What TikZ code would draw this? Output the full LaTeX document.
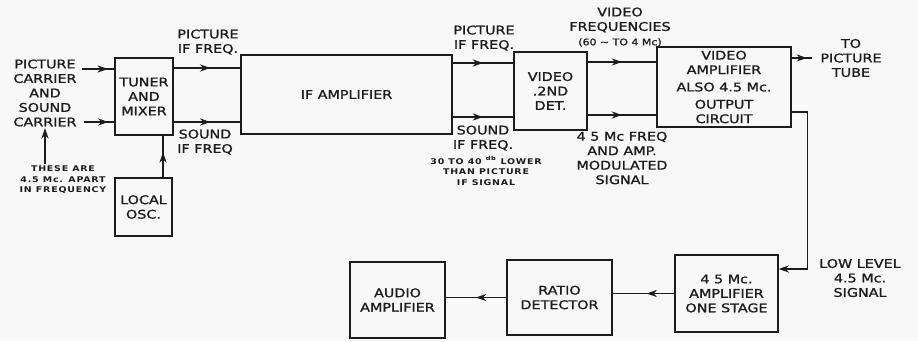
\documentclass[tikz,border=0pt]{standalone}
\usepackage{fontspec}
\setmainfont{DejaVu Sans}[FakeStretch=1.2,FakeBold=1.2]
\newfontfamily\notefont{DejaVu Sans}[FakeStretch=1.2,LetterSpace=10]
\usetikzlibrary{positioning,arrows.meta,calc,decorations.markings}
\definecolor{Ink}{RGB}{28,28,28}
\definecolor{Paper}{RGB}{248,248,248}
\tikzset{
  flow/.style={-{Stealth[length=2.6mm,width=1.8mm]},line width=0.9pt,draw=Ink},
  midflow/.style={line width=0.9pt,draw=Ink,postaction={decorate},
    decoration={markings,mark=at position #1 with {\arrow{Stealth[length=2.6mm,width=1.8mm]}}}},
  midflow/.default=0.55,
  box/.style={draw=Ink,line width=0.9pt,align=center,text=Ink,inner sep=1pt,
    font=\fontsize{8.5}{10.3}\selectfont},
  lbl/.style={align=center,text=Ink,inner sep=1pt,font=\fontsize{8.5}{10.3}\selectfont},
  smalllbl/.style={align=center,text=Ink,inner sep=1pt,font=\notefont\bfseries\fontsize{5.6}{7.5}\selectfont}
}

\begin{document}
\begin{tikzpicture}[x=0.025cm,y=-0.025cm]
  \fill[Paper] (0,0) rectangle (918,341);
  \useasboundingbox (0,0) rectangle (918,341);
  % upper chain
  \node[box,minimum width=1.45cm,minimum height=1.925cm] (tuner) at (144,96.5) {TUNER\\AND\\MIXER};
  \node[box,minimum width=5.275cm,minimum height=1.975cm] (ifamp) at (346.5,94.5) {IF AMPLIFIER};
  \node[box,minimum width=1.825cm,minimum height=1.95cm] (det) at (550.5,91) {VIDEO\\.2ND\\DET.};
  \node[box,minimum width=3.35cm,minimum height=2.0cm] (vamp) at (724,87)
    {VIDEO\\AMPLIFIER\\[2pt]ALSO 4.5 Mc.\\[2pt]OUTPUT\\CIRCUIT};
  \node[box,minimum width=1.425cm,minimum height=1.45cm] (osc) at (143.5,207) {LOCAL\\OSC.};
  % sound chain
  \node[box,minimum width=2.575cm,minimum height=1.925cm] (mfour) at (726.5,293.5) {4 5 Mc.\\AMPLIFIER\\ONE STAGE};
  \node[box,minimum width=2.625cm,minimum height=1.875cm] (ratio) at (559.5,297.5) {RATIO\\DETECTOR};
  \node[box,minimum width=2.375cm,minimum height=1.9cm] (audio) at (397.5,300) {AUDIO\\AMPLIFIER};

  % labels
  \node[lbl] (piccar) at (45,93) {PICTURE\\CARRIER\\AND\\SOUND\\CARRIER};
  \node[smalllbl] (apart) at (63,180) {THESE ARE\\4.5 Mc. APART\\IN FREQUENCY};
  \node[lbl] (pifone) at (208,42) {PICTURE\\IF FREQ.};
  \node[lbl] (sifone) at (205,142) {SOUND\\IF FREQ};
  \node[lbl] (piftwo) at (484,38) {PICTURE\\IF FREQ.};
  \node[lbl] (siftwo) at (483,138) {SOUND\\IF FREQ.};
  \node[smalllbl] (dbnote) at (486,171) {30 TO 40 \textsuperscript{db} LOWER\\THAN PICTURE\\IF SIGNAL};
  \node[lbl] (vidfreq) at (620,27) {VIDEO\\FREQUENCIES\\{\fontsize{6.5}{8}\selectfont(60 ∼ TO 4 Mc)}};
  \node[lbl] (modsig) at (622,158) {4 5 Mc FREQ\\AND AMP.\\MODULATED\\SIGNAL};
  \node[lbl] (tube) at (851,58) {TO\\PICTURE\\TUBE};
  \node[lbl] (lowlvl) at (860,278) {LOW LEVEL\\4.5 Mc.\\SIGNAL};

  \coordinate (pcin) at (82,69);
  \coordinate (scin) at (84,122);
  \coordinate (tubeend) at (812,58);

  % connectors
  \draw[midflow=0.8] (pcin) -- (pcin -| tuner.west);
  \draw[midflow=0.8] (scin) -- (scin -| tuner.west);
  \draw[flow] (apart.north -| piccar.south) -- (piccar.south);
  \draw[midflow=0.6] ([xshift=0.4875cm]osc.north) -- ([xshift=0.4875cm]osc.north |- tuner.south);
  \draw[midflow] ([yshift=0.7125cm]tuner.east) -- ([yshift=0.7125cm]tuner.east -| ifamp.west);
  \draw[midflow] ([yshift=-0.6375cm]tuner.east) -- ([yshift=-0.6375cm]tuner.east -| ifamp.west);
  \draw[midflow=0.5] ([yshift=0.7875cm]ifamp.east) -- ([yshift=0.7875cm]ifamp.east -| det.west);
  \draw[midflow=0.5] ([yshift=-0.5625cm]ifamp.east) -- ([yshift=-0.5625cm]ifamp.east -| det.west);
  \draw[midflow=0.5] ([yshift=0.725cm]det.east) -- ([yshift=0.725cm]det.east -| vamp.west);
  \draw[midflow=0.5] ([yshift=-0.6cm]det.east) -- ([yshift=-0.6cm]det.east -| vamp.west);
  \draw[midflow=0.75] (vamp.east |- tubeend) -- (tubeend);
  \draw[flow] ([yshift=-0.625cm]vamp.east) -- ++(16,0) |- ([yshift=0.6125cm]mfour.east);
  \draw[midflow=0.45] (mfour.west) -- (mfour.west -| ratio.east);
  \draw[midflow=0.5] (ratio.west) -- (ratio.west -| audio.east);
\end{tikzpicture}
\end{document}
